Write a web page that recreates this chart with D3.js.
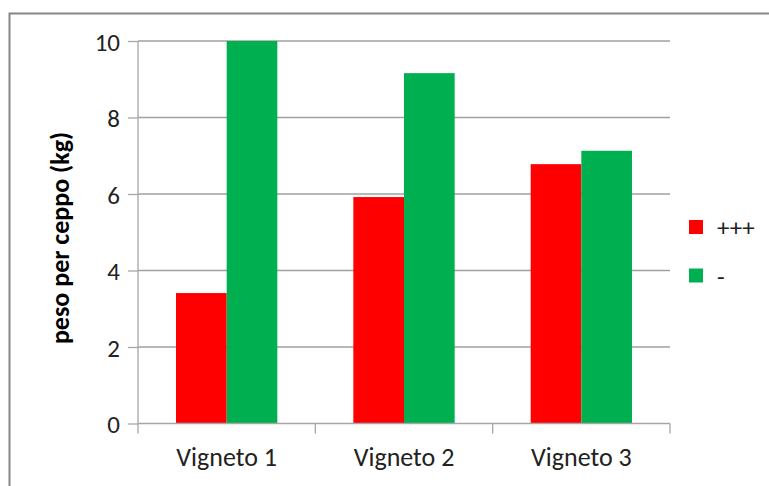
<!DOCTYPE html>
<html><head><meta charset="utf-8">
<script src="https://cdn.jsdelivr.net/npm/d3@7/dist/d3.min.js"></script>
<style>body{margin:0;background:#fff}svg{display:block}text{font-family:Calibri,Carlito,Lato,"Open Sans",sans-serif}</style>
</head><body><div id="c"></div>
<script>
const categories = ["Vigneto 1","Vigneto 2","Vigneto 3"];
const seriesNames = ["+++","-"];
const seriesColors = ["#ff0000","#00b050"];
const valuesPlus = [3.41, 5.92, 6.78];
const valuesMinus = [10.0, 9.16, 7.13];
const yTicks = [0,2,4,6,8,10];

const W=769,H=486;
const svg=d3.select("#c").append("svg").attr("width",W).attr("height",H);
svg.append("rect").attr("x",9.5).attr("y",13.5).attr("width",W+20).attr("height",H+20)
  .attr("fill","#fff").attr("stroke","#868686").attr("stroke-width",2);

const x0=d3.scaleBand().domain(categories).range([138,670]).paddingInner(0).paddingOuter(0);
const x1=d3.scaleBand().domain(seriesNames).range([0,x0.bandwidth()]).paddingInner(0).paddingOuter(0.75);
const y=d3.scaleLinear().domain([0,10]).range([423.5,41]);

// gridlines
svg.append("g").selectAll("line").data(yTicks.filter(d=>d>0)).join("line")
  .attr("x1",138).attr("x2",670).attr("y1",d=>y(d)).attr("y2",d=>y(d))
  .attr("stroke","#a0a0a0").attr("stroke-width",1.3);

const data=categories.map((c,i)=>({c,vals:[valuesPlus[i],valuesMinus[i]]}));
svg.append("g").selectAll("g").data(data).join("g")
  .attr("transform",d=>`translate(${x0(d.c)},0)`)
  .selectAll("rect").data(d=>d.vals.map((v,j)=>({v,s:seriesNames[j],col:seriesColors[j]}))).join("rect")
  .attr("x",d=>x1(d.s)).attr("width",x1.bandwidth())
  .attr("y",d=>y(d.v)).attr("height",d=>y(0)-y(d.v)).attr("fill",d=>d.col);

// y axis
const ya=svg.append("g").attr("transform","translate(138,0)")
  .call(d3.axisLeft(y).tickValues(yTicks).tickSize(10).tickPadding(8).tickFormat(d3.format("d")));
ya.select(".domain").attr("stroke","#a6a6a6").attr("stroke-width",1.3).attr("d","M0,41V423.5");
ya.selectAll(".tick line").attr("stroke","#a6a6a6").attr("stroke-width",1.3);
ya.selectAll(".tick text").attr("font-size",25).attr("fill","#222").attr("dy","0.36em");

// x axis
const xa=svg.append("g").attr("transform",`translate(0,${y(0)})`)
  .call(d3.axisBottom(x0).tickSize(0).tickPadding(0));
xa.select(".domain").attr("stroke","#a6a6a6").attr("stroke-width",1.3).attr("d","M138,0H670");
xa.selectAll(".tick text").attr("font-size",26).attr("fill","#222").attr("y",42.5).attr("dy",0);
const bounds=[...categories.map(c=>x0(c)),x0(categories[categories.length-1])+x0.bandwidth()];
xa.append("g").selectAll("line").data(bounds).join("line")
  .attr("x1",d=>d).attr("x2",d=>d).attr("y1",0).attr("y2",10)
  .attr("stroke","#a6a6a6").attr("stroke-width",1.3);

// y label
svg.append("text").attr("transform","translate(69,238) rotate(-90)")
  .attr("text-anchor","middle").attr("font-size",26).attr("font-weight","bold").attr("fill","#000")
  .text("peso per ceppo (kg)");

// legend
const lg=svg.append("g").selectAll("g").data(seriesNames).join("g")
  .attr("transform",(d,i)=>`translate(689,${220+i*48.5})`);
lg.append("rect").attr("width",14).attr("height",14).attr("fill",(d,i)=>seriesColors[i]);
lg.append("text").attr("x",28).attr("y",7).attr("dy","0.36em").attr("font-size",25).attr("fill","#222").text(d=>d);
</script></body></html>
